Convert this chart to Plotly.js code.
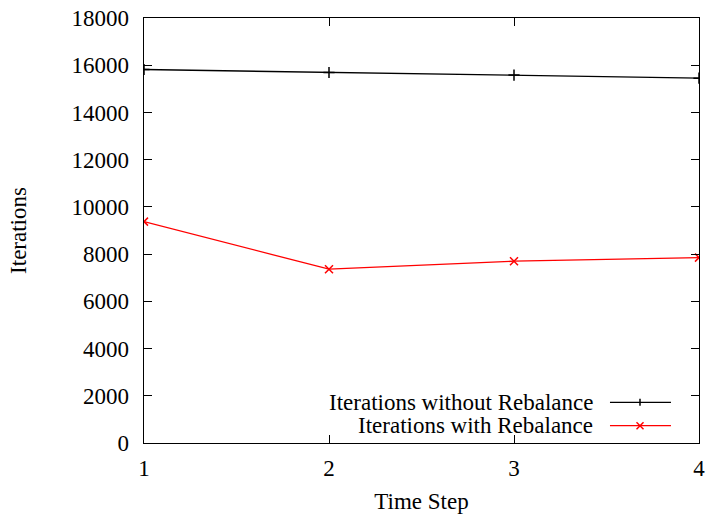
<!DOCTYPE html>
<html><head><meta charset="utf-8">
<script src="https://cdn.plot.ly/plotly-3.0.1.min.js"></script>
<style>html,body{margin:0;padding:0;background:#fff}#chart{width:707px;height:519px}</style>
</head><body><div id="chart"></div>
<script>
const timeSteps = [1, 2, 3, 4];
const withoutRebalance = [15818, 15691, 15581, 15453];
const withRebalance = [9377, 7360, 7699, 7852];
const seriesNames = ['Iterations without Rebalance', 'Iterations with Rebalance'];
const seriesColors = ['#000000', '#ff0000'];
const seriesSymbols = ['cross-thin-open', 'x-thin-open'];

const FONT = {family: 'Liberation Serif', size: 23, color: '#000'};

const traces = [withoutRebalance, withRebalance].map((ys, i) => ({
  x: timeSteps, y: ys, type: 'scatter', mode: 'lines+markers',
  name: seriesNames[i], showlegend: false,
  line: {color: seriesColors[i], width: 1.3},
  marker: {symbol: seriesSymbols[i], size: 8, color: seriesColors[i], line: {color: seriesColors[i], width: 1.5}}
}));

const W = 555, H = 425;
const legRows = [0.0958, 0.0407];
const annotations = [], shapes = [];
seriesNames.forEach((n, i) => {
  const y = legRows[i];
  annotations.push({xref: 'paper', yref: 'paper', x: 0.8126, y: y, xanchor: 'right', yanchor: 'middle',
    text: n, showarrow: false, font: FONT});
  shapes.push({type: 'line', xref: 'paper', yref: 'paper', x0: 0.8396, x1: 0.9495, y0: y, y1: y,
    line: {color: seriesColors[i], width: 1.3}});
  const cx = 0.8937, dx = 3.5 / W, dy = 3.5 / H;
  if (i === 0) {
    shapes.push({type: 'line', xref: 'paper', yref: 'paper', x0: cx, x1: cx, y0: y - dy, y1: y + dy, line: {color: seriesColors[i], width: 1.5}});
  } else {
    shapes.push({type: 'line', xref: 'paper', yref: 'paper', x0: cx - dx, x1: cx + dx, y0: y - dy, y1: y + dy, line: {color: seriesColors[i], width: 1.5}});
    shapes.push({type: 'line', xref: 'paper', yref: 'paper', x0: cx - dx, x1: cx + dx, y0: y + dy, y1: y - dy, line: {color: seriesColors[i], width: 1.5}});
  }
});

const layout = {
  width: 707, height: 519,
  margin: {l: 144, r: 8, t: 18, b: 76},
  paper_bgcolor: '#fff', plot_bgcolor: '#fff',
  font: FONT,
  showlegend: false,
  xaxis: {
    range: [1, 4], tickvals: timeSteps, ticktext: timeSteps.map(String),
    showgrid: false, zeroline: false, showline: true, linecolor: '#000', linewidth: 1.3, mirror: 'ticks',
    ticks: 'inside', ticklen: 8, tickcolor: '#000', tickwidth: 1,
    tickfont: FONT, ticklabelstandoff: 4,
    title: {text: 'Time Step', font: FONT, standoff: 13}
  },
  yaxis: {
    range: [0, 18000], dtick: 2000, tickformat: 'd',
    showgrid: false, zeroline: false, showline: true, linecolor: '#000', linewidth: 1.3, mirror: 'ticks',
    ticks: 'inside', ticklen: 8, tickcolor: '#000', tickwidth: 1,
    tickfont: FONT, ticklabelstandoff: 9,
    title: {text: 'Iterations', font: FONT, standoff: 38}
  },
  annotations: annotations, shapes: shapes
};
Plotly.newPlot('chart', traces, layout, {displayModeBar: false, staticPlot: true});
</script></body></html>
